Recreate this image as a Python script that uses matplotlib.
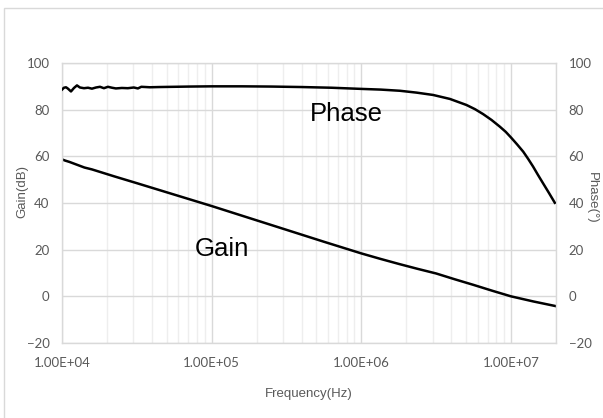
import matplotlib
matplotlib.use("Agg")
import matplotlib.pyplot as plt
from matplotlib.patches import Rectangle
from matplotlib.ticker import FixedLocator, LogLocator, NullFormatter
import numpy as np

# values (log10 of frequency, value)
gain_logf = [4.0, 4.02, 4.05, 4.1, 4.15, 4.2, 4.25, 4.35, 4.5, 4.75, 5.0, 5.25,
             5.5, 5.75, 6.0, 6.125, 6.25, 6.375, 6.5, 6.625, 6.75, 6.875, 7.0,
             7.15, 7.3]
gain_db = [58.7, 58.2, 57.6, 56.4, 55.2, 54.4, 53.4, 51.4, 48.5, 43.6, 38.7, 33.6,
           28.5, 23.4, 18.4, 16.1, 13.9, 11.8, 9.8, 7.3, 4.9, 2.4, 0.0,
           -2.2, -4.2]

phase_logf = [4.0, 4.013, 4.027, 4.04, 4.06, 4.08, 4.1, 4.12, 4.147, 4.174, 4.2,
              4.227, 4.254, 4.28, 4.307, 4.334, 4.36, 4.4, 4.44, 4.48, 4.507, 4.53,
              4.587, 4.65, 4.75, 4.85, 5.0, 5.2, 5.4, 5.6, 5.8, 6.0, 6.13, 6.258,
              6.37, 6.48, 6.592, 6.703, 6.76, 6.814, 6.87, 6.926, 6.965, 7.0, 7.04,
              7.082, 7.115, 7.148, 7.18, 7.215, 7.255, 7.293]
phase_deg = [88.6, 89.4, 89.6, 89.0, 87.8, 89.3, 90.4, 89.5, 89.2, 89.4, 89.0,
             89.5, 89.8, 89.2, 89.8, 89.4, 89.1, 89.3, 89.2, 89.5, 89.1, 89.8,
             89.6, 89.7, 89.8, 89.9, 90.0, 90.0, 89.9, 89.7, 89.4, 88.9, 88.6, 88.1,
             87.3, 86.3, 84.6, 82.0, 80.2, 78.1, 75.6, 72.7, 70.5, 68.1, 65.2,
             62.0, 58.9, 55.6, 52.1, 48.4, 44.2, 40.1]

x_ticks = [1e4, 1e5, 1e6, 1e7]
x_labels = ["1.00E+04", "1.00E+05", "1.00E+06", "1.00E+07"]
y_ticks = [-20, 0, 20, 40, 60, 80, 100]

tick_color = "#595959"
major_grid = "#d9d9d9"
minor_grid = "#eeeeee"
tick_font = "Lato"

fig = plt.figure(figsize=(6.03, 4.18), dpi=100)
W, H = 603, 418
ax = fig.add_axes([62 / W, 1 - 343 / H, (556 - 62) / W, (343 - 63) / H])

# chart-area border as in the spreadsheet export
fig.patches.append(Rectangle((4 / W, -0.01), 1.0, 1 - 8 / H + 0.01, transform=fig.transFigure,
                             fill=False, edgecolor="#d9d9d9", linewidth=1.0))

ax.set_xscale("log")
ax.set_xlim(1e4, 2e7)
ax.set_ylim(-20, 100)
ax.xaxis.set_major_locator(FixedLocator(x_ticks))
ax.set_xticklabels(x_labels)
ax.xaxis.set_minor_locator(LogLocator(base=10, subs=np.arange(2, 10)))
ax.xaxis.set_minor_formatter(NullFormatter())
ax.set_yticks(y_ticks)

ax.grid(True, which="major", color=major_grid, linewidth=1.0)
ax.grid(True, which="minor", axis="x", color=minor_grid, linewidth=1.0)
ax.set_axisbelow(True)
for s in ax.spines.values():
    s.set_color(major_grid)
    s.set_linewidth(1.0)
ax.tick_params(which="both", length=0, colors=tick_color, labelsize=9.5)
ax.tick_params(axis="x", pad=10)
ax.tick_params(axis="y", pad=9)
for lab in ax.get_xticklabels() + ax.get_yticklabels():
    lab.set_fontfamily(tick_font)

ax.plot(10 ** np.array(gain_logf), gain_db, color="black", linewidth=1.8,
        solid_joinstyle="round")

ax2 = ax.twinx()
ax2.set_ylim(-20, 100)
ax2.set_yticks(y_ticks)
ax2.tick_params(length=0, colors=tick_color, labelsize=9.5, pad=9)
for lab in ax2.get_yticklabels():
    lab.set_fontfamily(tick_font)
for s in ax2.spines.values():
    s.set_visible(False)
ax2.plot(10 ** np.array(phase_logf), phase_deg, color="black", linewidth=1.8,
         solid_joinstyle="round")

fig.text(22 / W, 1 - 192 / H, "Gain(dB)", rotation=90, ha="center", va="center",
         color=tick_color, fontsize=9.5, fontfamily="Liberation Sans")
fig.text(592 / W, 1 - 198 / H, "Phase(°)", rotation=270, ha="center", va="center",
         color=tick_color, fontsize=9.5, fontfamily="Liberation Sans")
fig.text(309 / W, 1 - 394 / H, "Frequency(Hz)", ha="center", va="center",
         color=tick_color, fontsize=9.5, fontfamily="Liberation Sans")

fig.text(310 / W, 1 - 121 / H, "Phase", ha="left", va="baseline",
         fontsize=18.5, fontfamily="Liberation Sans", color="black")
fig.text(195 / W, 1 - 256 / H, "Gain", ha="left", va="baseline",
         fontsize=18.5, fontfamily="Liberation Sans", color="black")

fig.savefig("out.png", dpi=100)
